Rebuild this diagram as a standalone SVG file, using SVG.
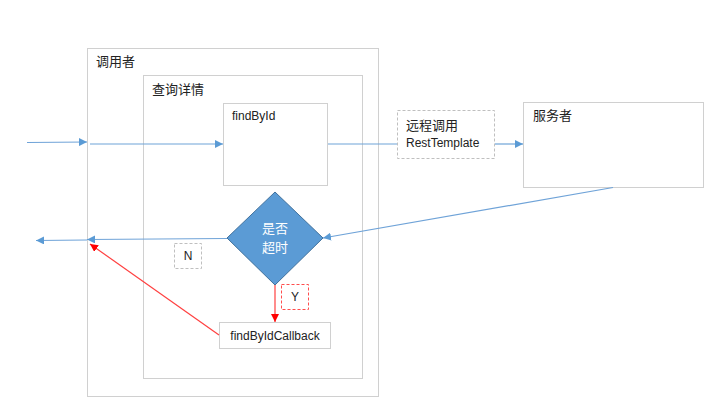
<svg xmlns="http://www.w3.org/2000/svg" width="719" height="412" viewBox="0 0 719 412">
<style>
.box{fill:#fff;stroke:#d0d0d0;stroke-width:1}
.dash{fill:#fff;stroke:#bfbfbf;stroke-width:1;stroke-dasharray:3,2}
.dashr{fill:#fff;stroke:#ff4d4d;stroke-width:1;stroke-dasharray:3,2}
.t{font-family:"Liberation Sans","Noto Sans CJK SC",sans-serif;font-size:12px;fill:#222}
.zh{font-family:"Noto Sans CJK SC","Liberation Sans",sans-serif;font-size:13px;fill:#222}
.b{stroke:#6fa3d8;stroke-width:1.2;fill:none}
.r{stroke:#ff4040;stroke-width:1.2;fill:none}
</style>
<defs>
<marker id="ab" viewBox="0 0 10 10" refX="10" refY="5" markerWidth="8" markerHeight="8" markerUnits="userSpaceOnUse" orient="auto"><path d="M0,0L10,5L0,10z" fill="#5b9bd5"/></marker>
<marker id="ar" viewBox="0 0 10 10" refX="10" refY="5" markerWidth="8" markerHeight="8" markerUnits="userSpaceOnUse" orient="auto"><path d="M0,0L10,5L0,10z" fill="#ff0000"/></marker>
</defs>
<rect width="719" height="412" fill="#fff"/>
<g id="caller"><rect class="box" x="87.5" y="48.5" width="291" height="348"/><text class="zh" x="96" y="66">调用者</text></g>
<g id="query"><rect class="box" x="143.5" y="75.5" width="219" height="303"/><text class="zh" x="152" y="94">查询详情</text></g>
<g id="findById"><rect class="box" x="223.5" y="103.5" width="104" height="82"/><text class="t" x="232" y="120">findById</text></g>
<g id="remote"><rect class="dash" x="397.5" y="110.5" width="97" height="48"/><text class="zh" x="406" y="130">远程调用</text><text class="t" x="406" y="147">RestTemplate</text></g>
<g id="provider"><rect class="box" x="523.5" y="102.5" width="180" height="85"/><text class="zh" x="533" y="120">服务者</text></g>
<g id="timeout"><path d="M275,192L323,238L275,285L227,238z" fill="#5b9bd5" stroke="#41719c" stroke-width="1"/><text class="zh" x="275" y="233" text-anchor="middle" fill="#fff" style="fill:#fff">是否</text><text class="zh" x="275" y="252" text-anchor="middle" style="fill:#fff">超时</text></g>
<g id="labelN"><rect class="dash" x="174.5" y="243.5" width="27" height="25"/><text class="t" x="188" y="260" text-anchor="middle">N</text></g>
<g id="labelY"><rect class="dashr" x="281.5" y="284.5" width="27" height="25"/><text class="t" x="295" y="301" text-anchor="middle">Y</text></g>
<g id="callback"><rect class="box" x="219.5" y="322.5" width="111" height="26"/><text class="t" x="275" y="340" text-anchor="middle">findByIdCallback</text></g>
<g id="connectors">
<line class="b" x1="27" y1="142.5" x2="87" y2="142" marker-end="url(#ab)"/>
<line class="b" x1="90" y1="144" x2="223" y2="144" marker-end="url(#ab)"/>
<line class="b" x1="328" y1="144" x2="397" y2="144"/>
<line class="b" x1="495" y1="144" x2="523" y2="144" marker-end="url(#ab)"/>
<line class="b" x1="613" y1="187.5" x2="323" y2="238" marker-end="url(#ab)"/>
<line class="b" x1="227" y1="238.5" x2="87" y2="239.5" marker-end="url(#ab)"/>
<line class="b" x1="87" y1="240" x2="36" y2="240.5" marker-end="url(#ab)"/>
<line class="r" x1="275" y1="285" x2="275" y2="322" marker-end="url(#ar)"/>
<line class="r" x1="219" y1="335" x2="90" y2="244" marker-end="url(#ar)"/>
</g>
</svg>
